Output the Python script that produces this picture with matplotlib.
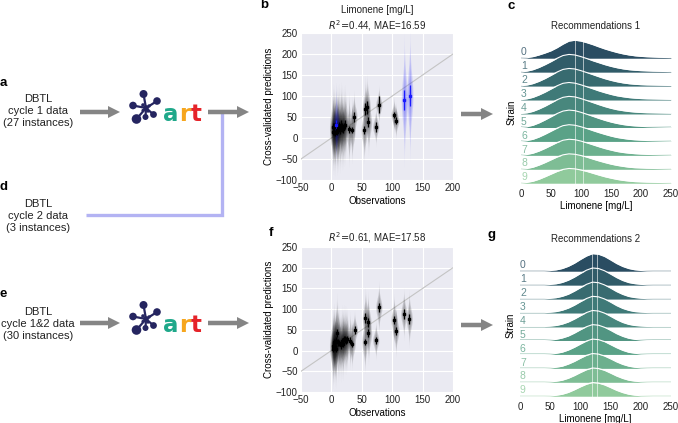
import numpy as np
import matplotlib.pyplot as plt
from matplotlib.patches import Circle, FancyArrow
from matplotlib.colors import LinearSegmentedColormap, to_rgb

plt.rcParams['font.family'] = ['Liberation Sans', 'DejaVu Sans']
plt.rcParams['text.color'] = '#222222'
plt.rcParams['xtick.color'] = '#222222'
plt.rcParams['ytick.color'] = '#222222'

# ---- data ----
# panel b: cycle 1 (black) and cycle 2 (blue) cross-validated predictions
obs_b1 = [2, 3, 4, 5, 6, 7, 9, 10, 11, 12, 14, 16, 17, 19, 21, 23, 29, 34, 37, 54, 56, 59, 61, 73, 78, 103, 106]
pred_b1 = [26, 15, 25, 14, 12, 30, 20, 14, 24, 28, 18, 32, 25, 21, 28, 32, 21, 19, 51, 19, 69, 73, 37, 27, 79, 55, 41]
sd_b1 = [32, 32, 32, 32, 32, 32, 32, 32, 32, 32, 32, 32, 32, 30, 30, 30, 28, 25, 20, 25, 25, 25, 25, 15, 15, 14, 14]
err_b1 = [10, 8, 10, 8, 8, 10, 10, 8, 10, 10, 8, 10, 10, 8, 8, 10, 8, 8, 12, 10, 15, 15, 12, 12, 20, 8, 8]
obs_b2 = [8, 120, 129]
pred_b2 = [32, 90, 101]
sd_b2 = [30, 50, 50]
err_b2 = [12, 24, 24]

# panel f: cycle 1&2 data together
obs_f = [2, 3, 4, 5, 6, 7, 8, 9, 11, 13, 15, 17, 19, 20, 22, 24, 26, 31, 34, 38,
         55, 56, 60, 61, 73, 78, 103, 106, 119, 128]
pred_f = [12, 4, 20, 16, 9, 5, 24, 43, 20, 18, 13, 22, 17, 28, 26, 25, 27, 24, 16, 50,
          21, 78, 68, 42, 25, 104, 74, 48, 88, 77]
sd_f = [30, 30, 30, 30, 30, 30, 30, 30, 30, 28, 28, 28, 28, 26, 26, 26, 24, 22, 20, 15,
        24, 24, 24, 24, 15, 20, 20, 20, 20, 22]
err_f = [8, 8, 8, 8, 8, 8, 8, 10, 8, 8, 8, 8, 8, 8, 8, 8, 8, 8, 8, 10,
         8, 12, 10, 10, 8, 10, 10, 10, 12, 12]

stats_b = (0.44, 16.59)
stats_f = (0.61, 17.58)

# ridge plots: predicted limonene distributions of the 10 recommended strains
strains = [str(i) for i in range(10)]
ridge_x = list(range(0, 251, 10))
rec1 = [
    [0.00, 0.02, 0.10, 0.22, 0.36, 0.52, 0.74, 1.00, 1.22, 1.28, 1.22, 1.10, 0.96, 0.80, 0.65, 0.52, 0.40, 0.30, 0.22, 0.16, 0.12, 0.09, 0.07, 0.05, 0.04, 0.03],
    [0.00, 0.05, 0.16, 0.32, 0.52, 0.74, 0.98, 1.18, 1.26, 1.22, 1.10, 0.96, 0.80, 0.66, 0.52, 0.40, 0.30, 0.22, 0.16, 0.12, 0.09, 0.07, 0.05, 0.04, 0.03, 0.02],
    [0.00, 0.05, 0.16, 0.32, 0.52, 0.75, 0.99, 1.18, 1.25, 1.21, 1.09, 0.95, 0.80, 0.65, 0.51, 0.39, 0.29, 0.21, 0.15, 0.11, 0.08, 0.06, 0.05, 0.04, 0.03, 0.02],
    [0.00, 0.06, 0.17, 0.34, 0.54, 0.77, 1.00, 1.18, 1.24, 1.19, 1.07, 0.93, 0.78, 0.63, 0.50, 0.38, 0.28, 0.21, 0.15, 0.11, 0.08, 0.06, 0.05, 0.04, 0.03, 0.02],
    [0.00, 0.05, 0.16, 0.33, 0.53, 0.76, 0.99, 1.17, 1.24, 1.20, 1.08, 0.94, 0.79, 0.64, 0.50, 0.38, 0.28, 0.21, 0.15, 0.11, 0.08, 0.06, 0.05, 0.04, 0.03, 0.02],
    [0.00, 0.05, 0.16, 0.33, 0.54, 0.77, 1.00, 1.18, 1.25, 1.21, 1.09, 0.95, 0.80, 0.65, 0.51, 0.39, 0.29, 0.21, 0.15, 0.11, 0.08, 0.06, 0.05, 0.04, 0.03, 0.02],
    [0.00, 0.05, 0.15, 0.31, 0.51, 0.73, 0.95, 1.13, 1.20, 1.16, 1.05, 0.92, 0.77, 0.63, 0.50, 0.38, 0.28, 0.21, 0.15, 0.11, 0.08, 0.06, 0.05, 0.04, 0.03, 0.02],
    [0.00, 0.05, 0.15, 0.30, 0.49, 0.70, 0.91, 1.08, 1.15, 1.12, 1.02, 0.89, 0.75, 0.61, 0.48, 0.37, 0.27, 0.20, 0.15, 0.11, 0.08, 0.06, 0.05, 0.04, 0.03, 0.02],
    [0.00, 0.04, 0.14, 0.29, 0.47, 0.67, 0.87, 1.03, 1.10, 1.07, 0.98, 0.86, 0.72, 0.59, 0.47, 0.36, 0.27, 0.20, 0.14, 0.10, 0.08, 0.06, 0.05, 0.04, 0.03, 0.02],
    [0.00, 0.04, 0.13, 0.27, 0.45, 0.64, 0.83, 0.98, 1.05, 1.02, 0.94, 0.83, 0.70, 0.57, 0.45, 0.35, 0.26, 0.19, 0.14, 0.10, 0.08, 0.06, 0.05, 0.04, 0.03, 0.02],
]
rec2 = [
    [0, 0, 0, 0, 0, 0.03, 0.08, 0.18, 0.34, 0.56, 0.83, 1.08, 1.25, 1.21, 1.05, 0.80, 0.54, 0.33, 0.18, 0.09, 0.04, 0.01, 0, 0, 0, 0],
    [0, 0, 0, 0, 0, 0.03, 0.08, 0.18, 0.34, 0.56, 0.82, 1.06, 1.22, 1.18, 1.02, 0.78, 0.53, 0.32, 0.17, 0.09, 0.04, 0.01, 0, 0, 0, 0],
    [0, 0, 0, 0, 0, 0.03, 0.08, 0.18, 0.33, 0.55, 0.80, 1.04, 1.20, 1.16, 1.00, 0.77, 0.52, 0.32, 0.17, 0.09, 0.04, 0.01, 0, 0, 0, 0],
    [0, 0, 0, 0, 0, 0.03, 0.08, 0.18, 0.33, 0.54, 0.79, 1.02, 1.18, 1.14, 0.99, 0.76, 0.51, 0.31, 0.17, 0.08, 0.04, 0.01, 0, 0, 0, 0],
    [0, 0, 0, 0, 0, 0.03, 0.08, 0.18, 0.33, 0.54, 0.78, 1.01, 1.16, 1.12, 0.97, 0.74, 0.50, 0.30, 0.16, 0.08, 0.04, 0.01, 0, 0, 0, 0],
    [0, 0, 0, 0, 0, 0.03, 0.08, 0.18, 0.32, 0.53, 0.77, 0.99, 1.14, 1.10, 0.95, 0.73, 0.49, 0.30, 0.16, 0.08, 0.04, 0.01, 0, 0, 0, 0],
    [0, 0, 0, 0, 0, 0.02, 0.07, 0.16, 0.31, 0.51, 0.74, 0.96, 1.10, 1.06, 0.92, 0.70, 0.48, 0.29, 0.15, 0.08, 0.03, 0.01, 0, 0, 0, 0],
    [0, 0, 0, 0, 0, 0.02, 0.07, 0.15, 0.30, 0.49, 0.72, 0.93, 1.06, 1.02, 0.88, 0.68, 0.46, 0.28, 0.15, 0.07, 0.03, 0.01, 0, 0, 0, 0],
    [0, 0, 0, 0, 0, 0.02, 0.06, 0.14, 0.28, 0.47, 0.69, 0.89, 1.02, 0.98, 0.85, 0.65, 0.44, 0.27, 0.14, 0.07, 0.03, 0.01, 0, 0, 0, 0],
    [0, 0, 0, 0, 0, 0.01, 0.05, 0.13, 0.26, 0.45, 0.66, 0.85, 0.97, 0.93, 0.80, 0.61, 0.41, 0.25, 0.13, 0.06, 0.02, 0.01, 0, 0, 0, 0],
]
rec1_lines = [90, 104]
rec2_lines = [120, 128]

W, H = 678, 423
fig = plt.figure(figsize=(W / 100, H / 100), dpi=100)

# overlay in pixel coordinates for the flow diagram
ov = fig.add_axes([0, 0, 1, 1])
ov.set_xlim(0, W)
ov.set_ylim(H, 0)
ov.axis('off')


def px_axes(left, top, right, bottom):
    return fig.add_axes([left / W, 1 - bottom / H, (right - left) / W, (bottom - top) / H])


# ---- left side: data blocks, arrows, ART logo ----
def block(y, text):
    ov.text(38, y, text, ha='center', va='center', fontsize=8, linespacing=1.3,
            multialignment='center', color='#222222')


block(111, 'DBTL\ncycle 1 data\n(27 instances)')
block(216, 'DBTL\ncycle 2 data\n(3 instances)')
block(324, 'DBTL\ncycle 1&2 data\n(30 instances)')

for lab, x, y in [('a', 0, 82.5), ('d', 0, 187), ('e', 0, 294),
                  ('b', 260, 5.5), ('c', 507, 6), ('f', 269, 233.5), ('g', 488, 235)]:
    ov.text(x, y, lab, fontsize=9.5, fontweight='bold', ha='left', va='center', color='black')

# cycle 2 feed line
ov.plot([86, 222, 222], [215, 215, 112], color='#b3b3f3', lw=2.4,
        solid_joinstyle='miter', solid_capstyle='butt', zorder=1)

for x0, x1, y in [(80, 120, 112), (208, 249, 112), (80, 120, 323), (208, 249, 323),
                  (461, 493, 114), (461, 493, 325)]:
    ov.add_patch(FancyArrow(x0, y, x1 - x0, 0, width=4.5, head_width=12, head_length=12,
                            length_includes_head=True, color='#858585', lw=0, zorder=2))


def art_logo(cx, cy):
    navy = '#252560'
    nodes = [(-2.5, -14, 4.0), (11, -7, 3.8), (-13, -2.5, 3.8), (7.5, 6.5, 3.4),
             (-9.5, 11, 4.8), (-0.5, 9, 3.0)]
    for dx, dy, r in nodes:
        ov.plot([cx, cx + dx], [cy, cy + dy], color=navy, lw=1.6, zorder=3)
        ov.add_patch(Circle((cx + dx, cy + dy), r, color=navy, lw=0, zorder=3))
    for dx, dy, r in [(0, 0, 2.8), (-3, -3, 1.8), (3, -2, 1.7), (2, 3, 1.7), (-3, 2.5, 1.6)]:
        ov.add_patch(Circle((cx + dx, cy + dy), r, color=navy, lw=0, zorder=3))
    for ch, dx, col in [('a', 17, '#1fa88a'), ('r', 33, '#f6a61e'), ('t', 45, '#e52329')]:
        ov.text(cx + dx, cy + 13, ch, color=col, fontsize=16.5, fontweight='bold',
                family='DejaVu Sans', ha='left', va='baseline', zorder=3)


art_logo(146, 108)
art_logo(146, 319)


# ---- cross-validation panels ----
def violin(ax, x, y, sd, color):
    for frac in (1.0, 0.75, 0.5, 0.3):
        yy = np.linspace(y - 3.2 * sd * frac, y + 3.2 * sd * frac, 80)
        half = 5.2 * frac * np.exp(-0.5 * ((yy - y) / (sd * frac)) ** 2)
        ax.fill_betweenx(yy, x - half, x + half, color=color, alpha=0.13, lw=0, zorder=2)


def cv_panel(ax, obs, pred, sd, err, color):
    for x, y, s in zip(obs, pred, sd):
        violin(ax, x, y, s, color)
    ax.errorbar(obs, pred, yerr=err, fmt='s', color=color, ms=2, lw=0.9,
                capsize=0, zorder=4)


def cv_axes(ax, r2, mae, title_off, extra=None):
    ax.set_facecolor('#eaeaf2')
    ax.grid(color='white', lw=0.8)
    ax.set_axisbelow(True)
    for s in ax.spines.values():
        s.set_visible(False)
    ax.set_xlim(-50, 200)
    ax.set_ylim(-100, 250)
    ax.set_xticks(range(-50, 201, 50))
    ax.set_yticks(range(-100, 251, 50))
    ax.tick_params(length=0, labelsize=7, pad=2.5)
    ax.plot([-50, 200], [-50, 200], color='#c4c4c4', lw=0.8, zorder=1)
    ax.set_xlabel('Observations', fontsize=7, labelpad=2)
    ax.set_ylabel('Cross-validated predictions', fontsize=7, labelpad=1.5)
    ax.text(0.5, 1 + title_off, r'$R^2\!=\!$' + f'{r2:.2f}, MAE={mae:.2f}', transform=ax.transAxes,
            ha='center', va='center', fontsize=7)
    if extra:
        ax.text(0.5, 1.157, extra, transform=ax.transAxes, ha='center', va='center', fontsize=7)


axb = px_axes(301, 33, 453, 180)
cv_axes(axb, *stats_b, 0.052, 'Limonene [mg/L]')
cv_panel(axb, obs_b1, pred_b1, sd_b1, err_b1, 'black')
cv_panel(axb, obs_b2, pred_b2, sd_b2, err_b2, '#1a1aff')

axf = px_axes(301, 247, 453, 392)
cv_axes(axf, *stats_f, 0.065)
cv_panel(axf, obs_f, pred_f, sd_f, err_f, 'black')

# ---- ridge panels ----
cmap = LinearSegmentedColormap.from_list('ridge', ['#2a4d62', '#3f7a78', '#5aa287', '#90ca9c'])
pal = [cmap(i / 9) for i in range(10)]


def ridge_panel(ax, rows, vlines, title):
    for i, row in enumerate(rows):
        c = pal[i]
        base = -i
        top = base + np.array(row)
        z = 10 + i
        light = tuple(0.45 * np.array(to_rgb(c)) + 0.55)
        label_col = tuple(0.8 * np.array(to_rgb(c)) + 0.2)
        ax.plot([0, 250], [base, base], color=light, lw=1.3, zorder=z,
                solid_capstyle='butt', clip_on=False)
        ax.fill_between(ridge_x, base, top, color=c, lw=0, zorder=z, clip_on=False)
        ax.plot(ridge_x, top, color='white', lw=0.8, zorder=z, clip_on=False)
        for xv in vlines:
            ax.plot([xv, xv], [base, np.interp(xv, ridge_x, top)], color='white',
                    lw=0.7, alpha=0.6, zorder=z, clip_on=False)
        ax.text(0, base + 0.05, strains[i], color=label_col, fontsize=7.5, ha='left',
                va='bottom', zorder=30)
    ax.set_xlim(0, 250)
    ax.set_ylim(-9.3, 1.5)
    ax.set_xticks(range(0, 251, 50))
    ax.set_yticks([])
    ax.tick_params(length=0, labelsize=7, pad=1.5)
    for s in ax.spines.values():
        s.set_visible(False)
    ax.patch.set_alpha(0)
    ax.set_xlabel('Limonene [mg/L]', fontsize=7, labelpad=1.5)
    ax.set_ylabel('Strain', fontsize=7, labelpad=3)
    ax.set_title(title, fontsize=7, pad=6)


axc = px_axes(521, 37.2, 671, 187.2)
ridge_panel(axc, rec1, rec1_lines, 'Recommendations 1')
axg = px_axes(520, 250.2, 671, 400.2)
ridge_panel(axg, rec2, rec2_lines, 'Recommendations 2')

fig.savefig('out.png', dpi=100)
